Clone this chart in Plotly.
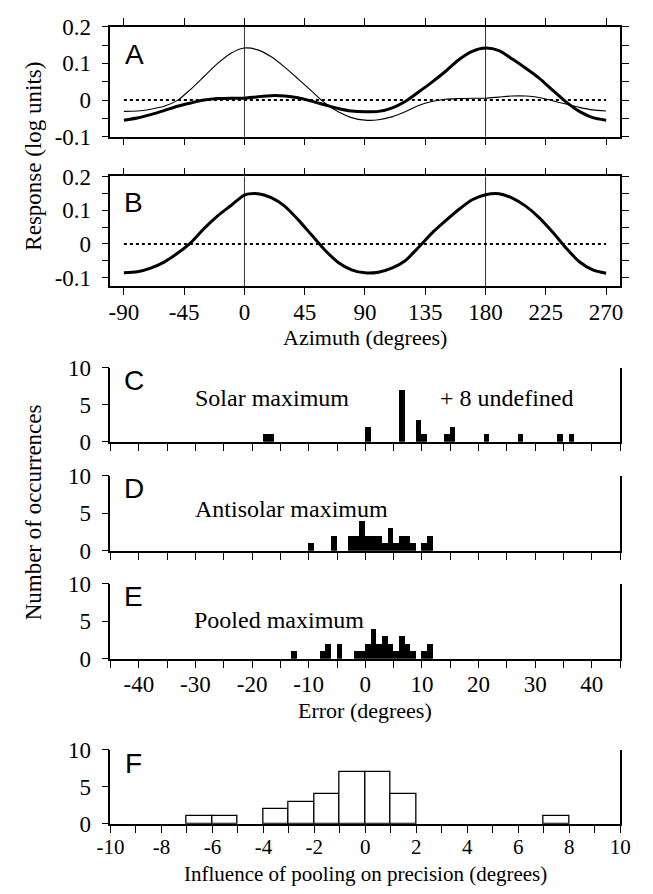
import plotly.graph_objects as go

# ---------------- data ----------------
azimuth = [-90, -80, -70, -60, -50, -40, -30, -20, -10, 0, 10, 20, 30, 40, 50, 60, 70, 80, 90,
           100, 110, 120, 130, 140, 150, 160, 170, 180, 190, 200, 210, 220, 230, 240, 250, 260, 270]
resp_a_thick = [-0.055, -0.049, -0.040, -0.029, -0.017, -0.008, 0.000, 0.004, 0.005, 0.005,
                0.009, 0.012, 0.011, 0.006, -0.003, -0.013, -0.023, -0.030, -0.032,
                -0.031, -0.022, -0.004, 0.022, 0.049, 0.078, 0.110, 0.133, 0.142, 0.135,
                0.112, 0.087, 0.060, 0.027, -0.005, -0.031, -0.048, -0.055]
resp_a_thin = [-0.031, -0.030, -0.025, -0.017, -0.001, 0.030, 0.065, 0.100, 0.128, 0.142,
               0.137, 0.118, 0.090, 0.058, 0.025, -0.008, -0.032, -0.048, -0.055,
               -0.054, -0.046, -0.032, -0.015, -0.004, 0.002, 0.004, 0.005, 0.005, 0.008,
               0.011, 0.011, 0.007, -0.002, -0.011, -0.020, -0.027, -0.030]
resp_b = [-0.086, -0.083, -0.072, -0.054, -0.028, 0.004, 0.046, 0.083, 0.114, 0.145,
          0.149, 0.137, 0.112, 0.072, 0.027, -0.018, -0.055, -0.077, -0.086,
          -0.084, -0.072, -0.050, -0.010, 0.032, 0.068, 0.102, 0.131, 0.146, 0.149,
          0.136, 0.112, 0.078, 0.035, -0.012, -0.053, -0.077, -0.087]
zero_line_x = [-90, 270]
zero_line_y = [0, 0]
ref_azimuths = [0, 180]

az_ticks = [-90, -45, 0, 45, 90, 135, 180, 225, 270]
az_labels = ["-90", "-45", "0", "45", "90", "135", "180", "225", "270"]
resp_ticks = [-0.1, 0, 0.1, 0.2]
resp_labels = ["-0.1", "0", "0.1", "0.2"]

# histogram bins (left edge of 1-degree bins) and counts
c_bins = [-18, -17, 0, 6, 9, 10, 14, 15, 21, 27, 34, 36]
c_counts = [1, 1, 2, 7, 3, 1, 1, 2, 1, 1, 1, 1]
d_bins = [-10, -6, -3, -2, -1, 0, 1, 2, 3, 4, 5, 6, 7, 8, 10, 11]
d_counts = [1, 2, 2, 2, 4, 2, 2, 2, 1, 3, 1, 2, 2, 1, 1, 2]
e_bins = [-13, -8, -7, -5, -2, -1, 0, 1, 2, 3, 4, 5, 6, 7, 8, 10, 11]
e_counts = [1, 1, 2, 2, 1, 1, 2, 4, 2, 3, 2, 1, 3, 2, 1, 1, 2]
f_bins = [-7, -6, -4, -3, -2, -1, 0, 1, 7]
f_counts = [1, 1, 2, 3, 4, 7, 7, 4, 1]

err_ticks = [-40, -30, -20, -10, 0, 10, 20, 30, 40]
err_labels = ["-40", "-30", "-20", "-10", "0", "10", "20", "30", "40"]
f_ticks = [-10, -8, -6, -4, -2, 0, 2, 4, 6, 8, 10]
f_labels = ["-10", "-8", "-6", "-4", "-2", "0", "2", "4", "6", "8", "10"]
count_ticks = [0, 5, 10]
count_labels = ["0", "5", "10"]

# ---------------- layout helpers ----------------
W, H = 653, 894
OFF = 8  # default page body margin of the written html
SERIF = "Liberation Serif, Times New Roman, serif"
SANS = "Liberation Sans, Arial, sans-serif"
FS = 23


def fx(p):
    return (p - OFF) / W


def fy(p):
    return 1 - (p - OFF) / H


xdom = [fx(100), fx(630)]
panels = {  # top, bottom in page pixels
    1: (15, 128),
    2: (169, 282),
    3: (366, 442),
    4: (477, 554),
    5: (588, 665),
    6: (759, 835),
}

fig = go.Figure()

# Panel A
fig.add_trace(go.Scatter(x=zero_line_x, y=zero_line_y, mode="lines",
                         line=dict(color="black", width=2, dash="3px,3px"),
                         xaxis="x", yaxis="y", showlegend=False))
fig.add_trace(go.Scatter(x=azimuth, y=resp_a_thin, mode="lines",
                         line=dict(color="black", width=1.1, shape="spline", smoothing=0.7),
                         xaxis="x", yaxis="y", showlegend=False))
fig.add_trace(go.Scatter(x=azimuth, y=resp_a_thick, mode="lines",
                         line=dict(color="black", width=3, shape="spline", smoothing=0.7),
                         xaxis="x", yaxis="y", showlegend=False))
# Panel B
fig.add_trace(go.Scatter(x=zero_line_x, y=zero_line_y, mode="lines",
                         line=dict(color="black", width=2, dash="3px,3px"),
                         xaxis="x2", yaxis="y2", showlegend=False))
fig.add_trace(go.Scatter(x=azimuth, y=resp_b, mode="lines",
                         line=dict(color="black", width=3, shape="spline", smoothing=0.7),
                         xaxis="x2", yaxis="y2", showlegend=False))

# Histograms
for ax, bins, counts, fill in [("3", c_bins, c_counts, "black"),
                               ("4", d_bins, d_counts, "black"),
                               ("5", e_bins, e_counts, "black"),
                               ("6", f_bins, f_counts, "white")]:
    fig.add_trace(go.Bar(x=[b + 0.5 for b in bins], y=counts, width=1,
                         marker=dict(color=fill,
                                     line=dict(color="black", width=1.3 if fill == "white" else 0)),
                         xaxis="x" + ax, yaxis="y" + ax, showlegend=False))

axis_common = dict(showline=True, linecolor="black", linewidth=1.6, ticks="outside",
                   ticklen=7, tickwidth=1.4, tickcolor="black", showgrid=False,
                   zeroline=False, tickfont=dict(family=SERIF, size=FS, color="black"),
                   fixedrange=True)

layout = dict(width=W, height=H, margin=dict(l=0, r=0, t=0, b=0),
              paper_bgcolor="white", plot_bgcolor="white", bargap=0,
              shapes=[], annotations=[])

for i in (1, 2):
    top, bot = panels[i]
    xa = "xaxis" if i == 1 else "xaxis2"
    ya = "yaxis" if i == 1 else "yaxis2"
    layout[xa] = dict(axis_common, domain=xdom, range=[-100, 280.5], mirror="ticks",
                      tickmode="array", tickvals=az_ticks, ticktext=az_labels,
                      showticklabels=(i == 2), anchor="y" if i == 1 else "y2",
                      ticklabelstandoff=-3)
    layout[ya] = dict(axis_common, domain=[fy(bot), fy(top)],
                      range=[-0.1, 0.2] if i == 1 else [-0.126, 0.2],
                      mirror="ticks", tickmode="array", tickvals=resp_ticks,
                      ticktext=resp_labels, ticklabelstandoff=6,
                      minor=dict(ticks="outside", ticklen=7, tickwidth=1.4,
                                 tickcolor="black", tickmode="linear", tick0=0.05, dtick=0.1),
                      anchor="x" if i == 1 else "x2")
    for r in ref_azimuths:
        layout["shapes"].append(dict(type="line", xref="x" if i == 1 else "x2",
                                     yref=("y" if i == 1 else "y2") + " domain",
                                     x0=r, x1=r, y0=0, y1=1,
                                     line=dict(color="#333", width=1), layer="below"))

for i in (3, 4, 5, 6):
    top, bot = panels[i]
    if i < 6:
        xr = [-45, 45]
        tv, tt, md = err_ticks, err_labels, 5
        so, tf = -3, FS
    else:
        xr = [-10, 10]
        tv, tt, md = f_ticks, f_labels, 1
        so, tf = -4, 21
    layout["xaxis%d" % i] = dict(axis_common, domain=xdom, range=xr, linewidth=2,
                                 tickmode="array", tickvals=tv, ticktext=tt,
                                 showticklabels=(i in (5, 6)), anchor="y%d" % i,
                                 ticklabelstandoff=so,
                                 tickfont=dict(family=SERIF, size=tf, color="black"),
                                 minor=dict(ticks="outside", ticklen=7, tickwidth=1.4,
                                            tickcolor="black", tickmode="linear",
                                            tick0=0, dtick=md))
    layout["yaxis%d" % i] = dict(axis_common, domain=[fy(bot), fy(top)], range=[0, 10],
                                 mirror=True, tickmode="array", tickvals=count_ticks,
                                 ticktext=count_labels, ticklabelstandoff=6,
                                 anchor="x%d" % i)


def ann(text, x, y, size=FS, family=SERIF, angle=0):
    layout["annotations"].append(dict(text=text, xref="paper", yref="paper",
                                      x=fx(x), y=fy(y), showarrow=False,
                                      xanchor="center", yanchor="middle", textangle=angle,
                                      font=dict(family=family, size=size, color="black")))


for letter, (lx, ly) in zip("ABCDEF", [(125, 44), (124, 196), (124, 379),
                                       (124, 490), (124, 601), (124, 773)]):
    ann(letter, lx, ly, size=28, family=SANS)

ann("Solar maximum", 268, 397, size=24)
ann("+ 8 undefined", 512, 397, size=24)
ann("Antisolar maximum", 288, 511, size=24)
ann("Pooled maximum", 275, 625, size=24)
ann("Azimuth (degrees)", 365, 335, size=22)
ann("Error (degrees)", 365, 718, size=22)
ann("Influence of pooling on precision (degrees)", 365, 887, size=21)
ann("Response (log units)", 20, 148, angle=-90)
ann("Number of occurrences", 20, 515, angle=-90)

fig.update_layout(**layout)
fig.write_html("out.html")
